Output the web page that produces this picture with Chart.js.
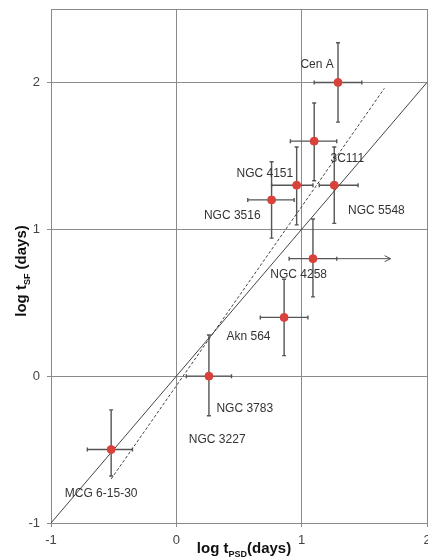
<!DOCTYPE html>
<html>
<head>
<meta charset="utf-8">
<script src="https://cdn.jsdelivr.net/npm/chart.js@4"></script>
<style>
  body { margin: 0; background: #fff; }
  canvas { display: block; }
</style>
</head>
<body>
<canvas id="tsfChart" width="428" height="560"></canvas>
<script>
// sources (log t_PSD, log t_SF, days)
const names = ['Cen A', '3C111', 'NGC 4151', 'NGC 5548', 'NGC 3516', 'NGC 4258', 'Akn 564', 'NGC 3783', 'MCG 6-15-30'];
const logPSD = [1.29, 1.10, 0.96, 1.26, 0.76, 1.09, 0.86, 0.26, -0.52];
const logSF = [2.00, 1.60, 1.30, 1.30, 1.20, 0.80, 0.40, 0.00, -0.50];
const xLow = [1.10, 0.91, 0.76, 1.14, 0.57, 0.90, 0.67, 0.08, -0.71];
const xHigh = [1.48, 1.28, 1.09, 1.45, 0.94, 1.28, 1.05, 0.44, -0.35];
const yLow = [1.73, 1.33, 1.03, 1.04, 0.94, 0.54, 0.14, -0.27, -0.68];
const yHigh = [2.27, 1.86, 1.56, 1.56, 1.46, 1.07, 0.66, 0.28, -0.23];
// NGC 4258 has a lower limit arrow
const arrowFrom = [1.28, 0.80];
const arrowTo = [1.71, 0.80];

// label anchors in data units (left edge, middle)
const labelX = [0.99, 1.23, 0.48, 1.37, 0.22, 0.75, 0.40, 0.32, -0.89, 0.10];
const labelY = [2.12, 1.48, 1.38, 1.13, 1.09, 0.69, 0.27, -0.22, -0.80, -0.43];
const labelText = names.concat(['NGC 3227']);

const equalLine = [{x: -1, y: -1}, {x: 2, y: 2}];
const fitLine = [{x: -0.52, y: -0.70}, {x: 1.66, y: 1.96}];

const gridCol = '#8a8a8a';
const barCol = '#555';

const errorBars = {
  id: 'errorBars',
  beforeDatasetsDraw(chart) {
    const {ctx, scales: {x, y}} = chart;
    ctx.save();
    ctx.strokeStyle = barCol;
    ctx.lineWidth = 1.4;
    const cap = 2;
    logPSD.forEach((v, i) => {
      const px = x.getPixelForValue(v), py = y.getPixelForValue(logSF[i]);
      const x1 = x.getPixelForValue(xLow[i]), x2 = x.getPixelForValue(xHigh[i]);
      const y1 = y.getPixelForValue(yLow[i]), y2 = y.getPixelForValue(yHigh[i]);
      ctx.beginPath();
      ctx.moveTo(x1, py); ctx.lineTo(x2, py);
      ctx.moveTo(x1, py - cap); ctx.lineTo(x1, py + cap);
      ctx.moveTo(x2, py - cap); ctx.lineTo(x2, py + cap);
      ctx.moveTo(px, y1); ctx.lineTo(px, y2);
      ctx.moveTo(px - cap, y1); ctx.lineTo(px + cap, y1);
      ctx.moveTo(px - cap, y2); ctx.lineTo(px + cap, y2);
      ctx.stroke();
    });
    // arrow
    const ax1 = x.getPixelForValue(arrowFrom[0]), ay = y.getPixelForValue(arrowFrom[1]);
    const ax2 = x.getPixelForValue(arrowTo[0]);
    ctx.lineWidth = 1;
    ctx.beginPath();
    ctx.moveTo(ax1, ay); ctx.lineTo(ax2, ay);
    ctx.moveTo(ax2 - 6, ay - 3); ctx.lineTo(ax2, ay); ctx.lineTo(ax2 - 6, ay + 3);
    ctx.stroke();
    ctx.restore();
  },
  afterDatasetsDraw(chart) {
    const {ctx, scales: {x, y}} = chart;
    ctx.save();
    ctx.font = '12px "Liberation Sans", Arial, sans-serif';
    ctx.fillStyle = '#333';
    ctx.textBaseline = 'middle';
    labelText.forEach((t, i) => {
      ctx.fillText(t, x.getPixelForValue(labelX[i]), y.getPixelForValue(labelY[i]));
    });
    ctx.restore();
  },
  afterDraw(chart) {
    const {ctx, chartArea: a} = chart;
    ctx.save();
    // top border of the plot box
    ctx.strokeStyle = gridCol;
    ctx.lineWidth = 1;
    ctx.beginPath();
    ctx.moveTo(a.left, a.top + 0.5);
    ctx.lineTo(a.right, a.top + 0.5);
    ctx.stroke();
    ctx.fillStyle = '#111';
    const big = 'bold 15px "Liberation Sans", Arial, sans-serif';
    const sub = 'bold 9px "Liberation Sans", Arial, sans-serif';
    // x title
    const xs = [['log t', big, 0], ['PSD', sub, 4], ['(days)', big, 0]];
    let w = 0;
    xs.forEach(p => { ctx.font = p[1]; w += ctx.measureText(p[0]).width; });
    let cx = 244 - w / 2;
    ctx.textBaseline = 'alphabetic';
    xs.forEach(p => { ctx.font = p[1]; ctx.fillText(p[0], cx, 553 + p[2]); cx += ctx.measureText(p[0]).width; });
    // y title
    const ys = [['log t', big, 0], ['SF', sub, 4], [' (days)', big, 0]];
    w = 0;
    ys.forEach(p => { ctx.font = p[1]; w += ctx.measureText(p[0]).width; });
    ctx.translate(26, 271);
    ctx.rotate(-Math.PI / 2);
    cx = -w / 2;
    ys.forEach(p => { ctx.font = p[1]; ctx.fillText(p[0], cx, p[2]); cx += ctx.measureText(p[0]).width; });
    ctx.restore();
  }
};

const chart = new Chart(document.getElementById('tsfChart').getContext('2d'), {
  type: 'scatter',
  data: {
    datasets: [{
      data: logPSD.map((v, i) => ({x: v, y: logSF[i]})),
      backgroundColor: '#d9413b',
      borderColor: '#d9413b',
      pointRadius: 4,
      order: 0
    }, {
      data: equalLine,
      showLine: true,
      pointRadius: 0,
      borderColor: '#444',
      borderWidth: 1,
      order: 1
    }, {
      data: fitLine,
      showLine: true,
      pointRadius: 0,
      borderColor: '#444',
      borderWidth: 1,
      borderDash: [3, 2],
      order: 1
    }]
  },
  options: {
    responsive: false,
    animation: false,
    layout: {autoPadding: false, padding: {top: 9, right: 1, left: 0, bottom: 0}},
    plugins: {legend: {display: false}, tooltip: {enabled: false}},
    scales: {
      x: {
        type: 'linear', min: -1, max: 2,
        ticks: {stepSize: 1, color: '#444', padding: 6, font: {size: 13, family: '"Liberation Sans", Arial'}},
        grid: {color: gridCol, tickLength: 4, tickColor: gridCol},
        border: {color: gridCol},
        afterFit: s => { s.height = 37; s.paddingRight = 0; s.paddingLeft = 0; }
      },
      y: {
        type: 'linear', min: -1, max: 2.5,
        ticks: {stepSize: 1, color: '#444', padding: 7, font: {size: 13, family: '"Liberation Sans", Arial'}},
        grid: {color: gridCol, tickLength: 4, tickColor: gridCol},
        border: {color: gridCol},
        afterBuildTicks: s => { s.ticks = s.ticks.filter(t => Number.isInteger(t.value)); },
        afterFit: s => { s.width = 51; s.paddingTop = 0; s.paddingBottom = 0; }
      }
    }
  },
  plugins: [errorBars]
});
</script>
</body>
</html>
